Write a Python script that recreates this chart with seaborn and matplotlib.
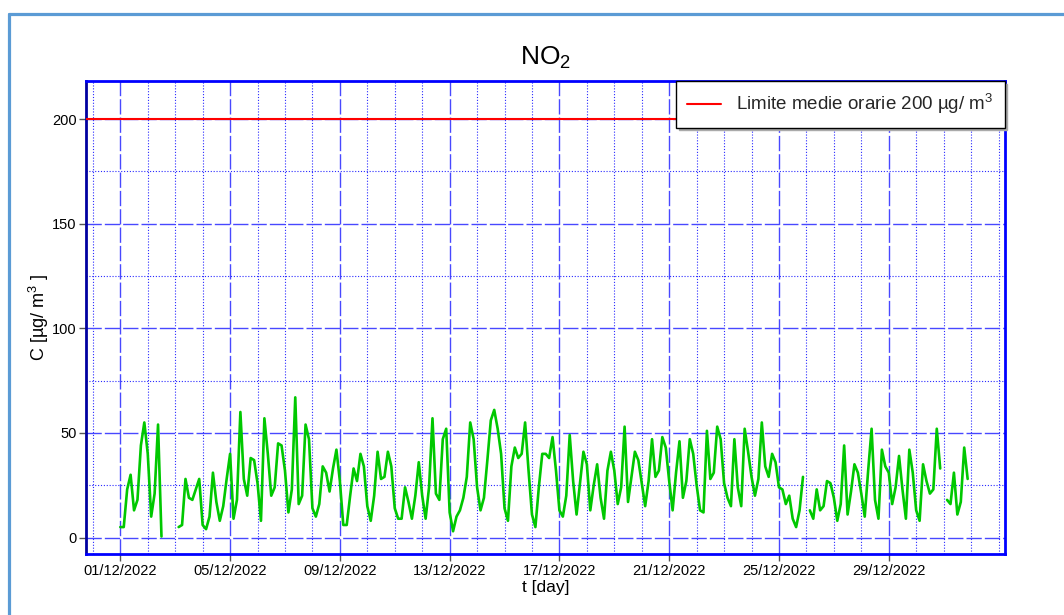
import matplotlib
matplotlib.use("Agg")
import matplotlib.dates as mdates
import matplotlib.pyplot as plt
import numpy as np
import pandas as pd
import seaborn as sns
from matplotlib.lines import Line2D
from matplotlib.ticker import FixedLocator, MultipleLocator

nan = np.nan

# NO2 hourly concentrations read every 3 hours (00, 03, ..., 21), one row per day
week1 = [
    [5, 5, 23, 30, 13, 18, 44, 55],
    [40, 10, 21, 54, 0.5, nan, nan, nan],
    [nan, 5, 6, 28, 19, 18, 23, 28],
    [6, 4, 10, 31, 17, 8, 15, 28],
    [40, 9, 18, 60, 28, 20, 38, 37],
    [26, 8, 57, 40, 20, 24, 45, 44],
    [32, 12, 23, 67, 16, 20, 54, 47],
]
week2 = [
    [14, 10, 16, 34, 31, 22, 33, 42],
    [27, 6, 6, 20, 33, 27, 40, 34],
    [15, 8, 20, 41, 28, 29, 41, 34],
    [14, 9, 9, 24, 17, 9, 20, 36],
    [20, 9, 24, 57, 21, 18, 47, 52],
    [12, 3, 10, 13, 19, 29, 55, 47],
    [24, 13, 19, 37, 56, 61, 52, 40],
]
week3 = [
    [14, 8, 34, 43, 38, 40, 55, 32],
    [11, 5, 24, 40, 40, 38, 48, 32],
    [13, 10, 20, 49, 27, 11, 26, 41],
    [35, 13, 25, 35, 19, 9, 32, 41],
    [32, 16, 24, 53, 17, 29, 41, 37],
    [26, 15, 27, 47, 29, 32, 48, 43],
    [27, 13, 31, 46, 19, 27, 47, 40],
]
week4 = [
    [25, 13, 12, 51, 28, 31, 53, 47],
    [26, 19, 15, 47, 24, 15, 52, 41],
    [29, 20, 28, 55, 34, 29, 40, 36],
    [24, 23, 16, 20, 9, 5, 13, 29],
    [nan, 13, 9, 23, 13, 15, 27, 26],
    [19, 8, 16, 44, 11, 22, 35, 31],
    [21, 10, 32, 52, 18, 9, 42, 34],
]
week5 = [
    [31, 16, 24, 39, 23, 9, 42, 31],
    [13, 8, 35, 27, 21, 23, 52, 33],
    [nan, 18, 16, 31, 11, 17, 43, 28],
]

limit_value = 200
limit_label = "Limite medie orarie 200 µg/ m$^3$"
tick_days = pd.date_range("2022-12-01", "2022-12-29", freq="4D")
grid_days = pd.date_range("2022-11-30", "2023-01-02", freq="D")

values = np.concatenate([np.ravel(w) for w in (week1, week2, week3, week4, week5)])
times = pd.date_range("2022-12-01", periods=len(values), freq="3h")
df = pd.DataFrame({"t": times, "c": values})
df["seg"] = df["c"].isna().cumsum()
df = df.dropna()

sns.set_style("white")
plt.rcParams["font.family"] = ["Liberation Sans", "DejaVu Sans"]
plt.rcParams["mathtext.fontset"] = "custom"
plt.rcParams["mathtext.rm"] = "Liberation Sans"
plt.rcParams["mathtext.it"] = "Liberation Sans:italic"

fig = plt.figure(figsize=(10.64, 6.15), dpi=100)
ax = fig.add_axes([0.0811, 0.0984, 0.8630, 0.7699])

sns.lineplot(data=df, x="t", y="c", units="seg", estimator=None,
             color="#00c800", lw=1.9, ax=ax, legend=False, zorder=3)
ax.axhline(limit_value, color="red", lw=1.5, label=limit_label, zorder=3)

ax.set_xlim(pd.Timestamp("2022-11-29 18:15"), pd.Timestamp("2023-01-02 05:15"))
ax.set_ylim(-8.1, 218.2)

ax.xaxis.set_major_locator(FixedLocator(mdates.date2num(tick_days)))
ax.xaxis.set_minor_locator(FixedLocator(mdates.date2num(grid_days)))
ax.xaxis.set_major_formatter(mdates.DateFormatter("%d/%m/%Y"))
ax.yaxis.set_major_locator(MultipleLocator(50))
ax.yaxis.set_minor_locator(MultipleLocator(25))

ax.set_axisbelow(True)
ax.grid(which="major", color="#4848ff", linestyle=(0, (11, 2.2)), lw=1.0)
ax.grid(which="minor", color="#2a2aff", linestyle=(0, (1, 1.6)), lw=0.8)

ax.tick_params(which="major", bottom=True, left=True, length=5, width=1,
               color="#555555", labelcolor="black", labelsize=10.5, pad=2)
ax.tick_params(which="minor", length=0)

for side in ["top", "right", "bottom"]:
    ax.spines[side].set_color("#0000ff")
    ax.spines[side].set_linewidth(2)
ax.spines["left"].set_color("#0000a0")
ax.spines["left"].set_linewidth(2)

ax.set_title("NO$_2$", fontsize=19, pad=12, color="black")
ax.set_xlabel("t [day]", fontsize=12.5, labelpad=1, color="black")
ax.set_ylabel("C [µg/ m$^3$ ]", fontsize=13, color="black")
ax.yaxis.set_label_coords(-0.038, 0.5)

leg = ax.legend(loc="upper right", borderaxespad=0, frameon=True, fancybox=False,
                shadow={"color": "#aaaaaa", "alpha": 1}, edgecolor="black",
                framealpha=1, fontsize=13.5, handlelength=1.8, handletextpad=0.8,
                borderpad=0.6)
leg.get_frame().set_linewidth(1)

# light blue window frame around the picture
frame_top = 1 - 14 / 615
frame_left = 9 / 1064
fig.add_artist(Line2D([frame_left, 1], [frame_top, frame_top], color="#5b9bd5",
                      lw=2.3, transform=fig.transFigure))
fig.add_artist(Line2D([frame_left, frame_left], [0, frame_top], color="#5b9bd5",
                      lw=2.3, transform=fig.transFigure))

fig.savefig("out.png", dpi=100)
